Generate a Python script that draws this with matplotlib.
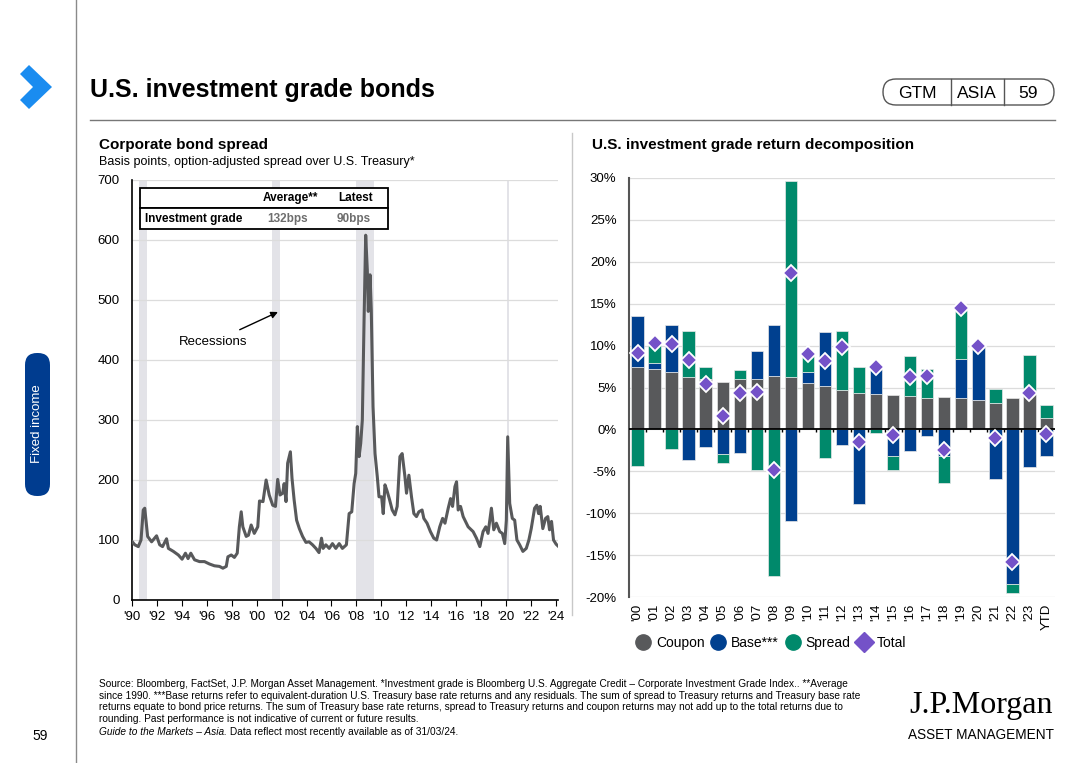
import numpy as np
import matplotlib
matplotlib.use("Agg")
import matplotlib.pyplot as plt
from matplotlib.patches import Rectangle, FancyBboxPatch, Polygon
from matplotlib.lines import Line2D

plt.rcParams['font.family'] = ['Liberation Sans', 'DejaVu Sans']

## Corporate bond spread (bps)
spread_year = [1990.0, 1990.2, 1990.48, 1990.7, 1990.88, 1991.0, 1991.23, 1991.55, 1991.95, 1992.2,
               1992.43, 1992.75, 1992.9, 1993.3, 1993.7, 1994.0, 1994.27, 1994.48, 1994.7, 1995.0,
               1995.4, 1995.8, 1996.2, 1996.6, 1997.0, 1997.28, 1997.55, 1997.68, 1997.95, 1998.2,
               1998.43, 1998.6, 1998.75, 1998.88, 1999.15, 1999.33, 1999.55, 1999.8, 2000.08, 2000.22,
               2000.5, 2000.75, 2001.0, 2001.28, 2001.5, 2001.68, 2001.87, 2002.08, 2002.2, 2002.35,
               2002.48, 2002.7, 2002.83, 2003.0, 2003.2, 2003.42, 2003.68, 2003.95, 2004.2, 2004.48,
               2004.75, 2005.0, 2005.2, 2005.33, 2005.55, 2005.82, 2006.08, 2006.35, 2006.62, 2006.88,
               2007.2, 2007.42, 2007.63, 2007.82, 2007.95, 2008.08, 2008.22, 2008.35, 2008.48, 2008.62,
               2008.75, 2008.88, 2008.96, 2009.1, 2009.2, 2009.34, 2009.5, 2009.68, 2009.82, 2010.03,
               2010.16, 2010.3, 2010.48, 2010.67, 2010.88, 2011.1, 2011.28, 2011.5, 2011.68, 2011.9,
               2012.03, 2012.22, 2012.43, 2012.62, 2012.83, 2013.02, 2013.28, 2013.42, 2013.68, 2013.95,
               2014.22, 2014.45, 2014.7, 2014.93, 2015.12, 2015.38, 2015.57, 2015.73, 2015.92, 2016.05,
               2016.18, 2016.37, 2016.58, 2016.98, 2017.38, 2017.65, 2017.92, 2018.18, 2018.4, 2018.58,
               2018.85, 2019.04, 2019.25, 2019.52, 2019.73, 2019.92, 2020.05, 2020.16, 2020.32, 2020.53,
               2020.72, 2020.9, 2021.12, 2021.38, 2021.65, 2021.86, 2022.05, 2022.32, 2022.5, 2022.64,
               2022.77, 2022.98, 2023.2, 2023.38, 2023.52, 2023.68, 2023.84, 2024.05, 2024.2]
spread_bps = [97, 92, 89, 100, 150, 153, 106, 97, 107, 92,
              89, 102, 86, 81, 75, 68, 78, 69, 78, 67,
              64, 64, 60, 57, 56, 53, 56, 72, 75, 71,
              78, 122, 147, 122, 106, 108, 125, 111, 122, 165,
              164, 200, 175, 158, 156, 201, 175, 178, 194, 164,
              228, 247, 203, 167, 133, 119, 106, 96, 97, 92,
              86, 79, 103, 86, 92, 86, 94, 86, 94, 86,
              92, 144, 147, 194, 211, 289, 239, 261, 300, 467,
              608, 550, 481, 542, 483, 322, 244, 206, 172, 172,
              144, 192, 181, 167, 150, 142, 156, 239, 244, 206,
              178, 208, 172, 144, 139, 147, 150, 136, 128, 114,
              103, 100, 122, 136, 128, 153, 169, 156, 189, 197,
              150, 156, 139, 122, 114, 103, 89, 114, 122, 111,
              153, 117, 128, 114, 111, 94, 133, 272, 161, 136,
              133, 100, 92, 81, 86, 100, 119, 153, 158, 144,
              156, 119, 136, 139, 117, 131, 100, 93, 90]

recessions = [(1990.55, 1991.2), (2001.2, 2001.9), (2007.95, 2009.45), (2020.1, 2020.3)]
year_ticks = list(range(1990, 2025, 2))

table_cols = ['Average**', 'Latest']
table_row = 'Investment grade'
table_vals = ['132bps', '90bps']

## Return decomposition (%)
years = ["'00", "'01", "'02", "'03", "'04", "'05", "'06", "'07", "'08", "'09", "'10", "'11", "'12",
         "'13", "'14", "'15", "'16", "'17", "'18", "'19", "'20", "'21", "'22", "'23", "YTD"]
coupon = [7.5, 7.2, 6.9, 6.2, 6.0, 5.7, 6.0, 6.0, 6.4, 6.3, 5.5, 5.2, 4.7,
          4.4, 4.2, 4.1, 4.0, 3.8, 3.9, 3.8, 3.5, 3.2, 3.7, 4.2, 1.4]
base = [6.0, 0.7, 5.5, -3.6, -2.1, -2.9, -2.8, 3.4, 6.1, -10.9, 1.4, 6.4, -1.9,
        -8.9, 3.2, -3.2, -2.6, -0.75, -3.2, 4.6, 6.4, -5.9, -18.4, -4.5, -3.2]
spread = [-4.35, 2.3, -2.3, 5.6, 1.5, -1.15, 1.1, -4.9, -17.45, 23.3, 1.9, -3.4, 7.05,
          3.0, -0.4, -1.6, 4.7, 3.4, -3.2, 5.9, 0.0, 1.6, -1.1, 4.7, 1.5]
total = [9.1, 10.3, 10.2, 8.3, 5.4, 1.6, 4.3, 4.5, -4.9, 18.7, 9.0, 8.2, 9.8,
         -1.55, 7.4, -0.7, 6.2, 6.4, -2.5, 14.5, 9.9, -1.0, -15.8, 4.4, -0.5]

c_coupon = '#58595b'
c_base = '#00408f'
c_spread = '#00896b'
c_total = '#7452c8'

W, H = 1080, 763
fig = plt.figure(figsize=(W / 100, H / 100), dpi=100)

def box(l, t, r, b):
    return [l / W, 1 - b / H, (r - l) / W, (b - t) / H]

## background layer in pixel coordinates
bg = fig.add_axes([0, 0, 1, 1])
bg.set_xlim(0, W)
bg.set_ylim(H, 0)
bg.axis('off')

bg.add_patch(Polygon([(20, 74), (29, 65), (52, 87), (29, 109), (20, 100), (33, 87)], closed=True,
                     color='#1a8cf0', lw=0))
bg.plot([76, 76], [0, H], color='#8a8a8a', lw=1)
bg.plot([90, 1055], [120, 120], color='#777777', lw=1)
bg.plot([572, 572], [133, 615], color='#c8c8c8', lw=1)
bg.text(90, 90, 'U.S. investment grade bonds', fontsize=18, fontweight='bold', va='center', ha='left')

bg.add_patch(FancyBboxPatch((883, 79), 171, 26, boxstyle='round,pad=0,rounding_size=13',
                            fc='none', ec='#555555', lw=1))
bg.plot([951, 951], [79, 105], color='#555555', lw=1)
bg.plot([1004, 1004], [79, 105], color='#555555', lw=1)
bg.text(917, 93, 'GTM', fontsize=12.5, ha='center', va='center')
bg.text(977, 93, 'ASIA', fontsize=12.5, ha='center', va='center')
bg.text(1028, 93, '59', fontsize=12.5, ha='center', va='center')

bg.add_patch(FancyBboxPatch((25, 353), 25, 143, boxstyle='round,pad=0,rounding_size=12',
                            fc='#003c8f', ec='none'))
bg.text(37.5, 424, 'Fixed income', color='white', fontsize=9.5, rotation=90, ha='center', va='center')
bg.text(40, 736, '59', fontsize=10, ha='center', va='center')

bg.text(99, 145, 'Corporate bond spread', fontsize=11, fontweight='bold', va='center')
bg.text(99, 162, 'Basis points, option-adjusted spread over U.S. Treasury*', fontsize=9, va='center')
bg.text(592, 145, 'U.S. investment grade return decomposition', fontsize=11, fontweight='bold', va='center')

foot = ("Source: Bloomberg, FactSet, J.P. Morgan Asset Management. *Investment grade is Bloomberg U.S. Aggregate Credit \u2013 Corporate Investment Grade Index.. **Average\n"
        "since 1990. ***Base returns refer to equivalent-duration U.S. Treasury base rate returns and any residuals. The sum of spread to Treasury returns and Treasury base rate\n"
        "returns equate to bond price returns. The sum of Treasury base rate returns, spread to Treasury returns and coupon returns may not add up to the total returns due to\n"
        "rounding. Past performance is not indicative of current or future results.")
bg.text(99, 679, foot, fontsize=7.3, va='top', ha='left', linespacing=1.2)
t_guide = bg.text(99, 732, 'Guide to the Markets \u2013 Asia.', fontsize=7.3, style='italic', va='center')
bg.annotate(' Data reflect most recently available as of 31/03/24.', xy=(1, 0.5), xycoords=t_guide,
            fontsize=7.3, va='center', ha='left')

bg.text(981, 705, 'J.P.Morgan', family='Liberation Serif', fontsize=23, ha='center', va='center')
bg.text(981, 735, 'ASSET MANAGEMENT', fontsize=9.8, ha='center', va='center')

## Left chart: spread line
ax1 = fig.add_axes(box(132.3, 180, 558, 600))
for s, e in recessions:
    ax1.axvspan(s, e, color='#e3e3e8', lw=0, zorder=0)
ax1.plot(spread_year, spread_bps, color='#58595b', lw=2.2, zorder=3)
ax1.set_xlim(1990, 2024.2)
ax1.set_ylim(0, 700)
ax1.set_yticks(range(0, 701, 100))
ax1.set_xticks(year_ticks)
ax1.set_xticklabels(["'" + str(y)[2:] for y in year_ticks])
ax1.grid(axis='y', color='#dcdcdc', lw=0.9, zorder=1)
ax1.set_axisbelow(True)
for sp in ['top', 'right']:
    ax1.spines[sp].set_visible(False)
ax1.spines['left'].set_color('black')
ax1.spines['bottom'].set_color('black')
ax1.spines['left'].set_linewidth(1.2)
ax1.spines['bottom'].set_linewidth(1.2)
ax1.tick_params(axis='y', length=0, pad=9, labelsize=9.5)
ax1.tick_params(axis='x', length=4, direction='out', pad=4, labelsize=9.5)

ax1.annotate('Recessions', xy=(2001.7, 480), xytext=(1996.5, 430), fontsize=9.5, ha='center', va='center',
             arrowprops=dict(arrowstyle='-|>', color='black', lw=1, shrinkA=6, shrinkB=0, mutation_scale=10))

## table in pixel coordinates
bg.add_patch(Rectangle((140, 188), 248, 20, fc='white', ec='black', lw=1.3, zorder=5))
bg.add_patch(Rectangle((140, 208), 248, 21, fc='white', ec='black', lw=1.3, zorder=5))
bg.set_zorder(2)
bg.patch.set_visible(False)
bg.text(290, 198, table_cols[0], fontsize=8.5, fontweight='bold', ha='center', va='center', zorder=6)
bg.text(356, 198, table_cols[1], fontsize=8.5, fontweight='bold', ha='center', va='center', zorder=6)
bg.text(145, 219, table_row, fontsize=8.5, fontweight='bold', ha='left', va='center', zorder=6)
bg.text(288, 219, table_vals[0], fontsize=8.5, fontweight='bold', color='#6e6e6e', ha='center', va='center', zorder=6)
bg.text(354, 219, table_vals[1], fontsize=8.5, fontweight='bold', color='#6e6e6e', ha='center', va='center', zorder=6)

## Right chart: stacked bars
ax2 = fig.add_axes(box(629, 178, 1055, 597))
x = np.arange(len(years))
pos_bot = np.zeros(len(years))
neg_bot = np.zeros(len(years))
for vals, col in [(coupon, c_coupon), (base, c_base), (spread, c_spread)]:
    v = np.array(vals, dtype=float)
    bottom = np.where(v >= 0, pos_bot, neg_bot)
    ax2.bar(x, v, 0.73, bottom=bottom, color=col, edgecolor='#e8e8e8', linewidth=0.5, zorder=3)
    pos_bot = pos_bot + np.where(v > 0, v, 0)
    neg_bot = neg_bot + np.where(v < 0, v, 0)
ax2.plot(x, total, ls='none', marker='D', ms=8.5, mfc=c_total, mec='white', mew=1.3, zorder=5)
ax2.axhline(0, color='black', lw=1.3, zorder=4)
ax2.vlines(x[:-1] + 0.5, -0.35, 0, color='black', lw=1, zorder=4)
ax2.set_xlim(-0.5, len(years) - 0.5)
ax2.set_ylim(-20, 30)
ax2.set_yticks(range(-20, 31, 5))
ax2.set_yticklabels([str(t) + '%' for t in range(-20, 31, 5)])
ax2.set_xticks(x)
ax2.set_xticklabels(years, rotation=90)
ax2.grid(axis='y', color='#dcdcdc', lw=0.9, zorder=0)
ax2.set_axisbelow(True)
for sp in ['top', 'right', 'bottom']:
    ax2.spines[sp].set_visible(False)
ax2.spines['left'].set_color('#555555')
ax2.spines['left'].set_linewidth(1.5)
ax2.tick_params(axis='y', length=0, pad=9, labelsize=9.5)
ax2.tick_params(axis='x', length=0, pad=5, labelsize=9.5)

handles = [Line2D([], [], ls='none', marker='o', ms=11, mfc=c_coupon, mec=c_coupon),
           Line2D([], [], ls='none', marker='o', ms=11, mfc=c_base, mec=c_base),
           Line2D([], [], ls='none', marker='o', ms=11, mfc=c_spread, mec=c_spread),
           Line2D([], [], ls='none', marker='D', ms=10, mfc=c_total, mec=c_total)]
fig.legend(handles, ['Coupon', 'Base***', 'Spread', 'Total'], loc='center left',
           bbox_to_anchor=(624 / W, 1 - 643 / H), ncol=4, frameon=False, fontsize=10,
           handletextpad=0.4, columnspacing=0.5, handlelength=1.0)

fig.savefig('out.png', dpi=100)
